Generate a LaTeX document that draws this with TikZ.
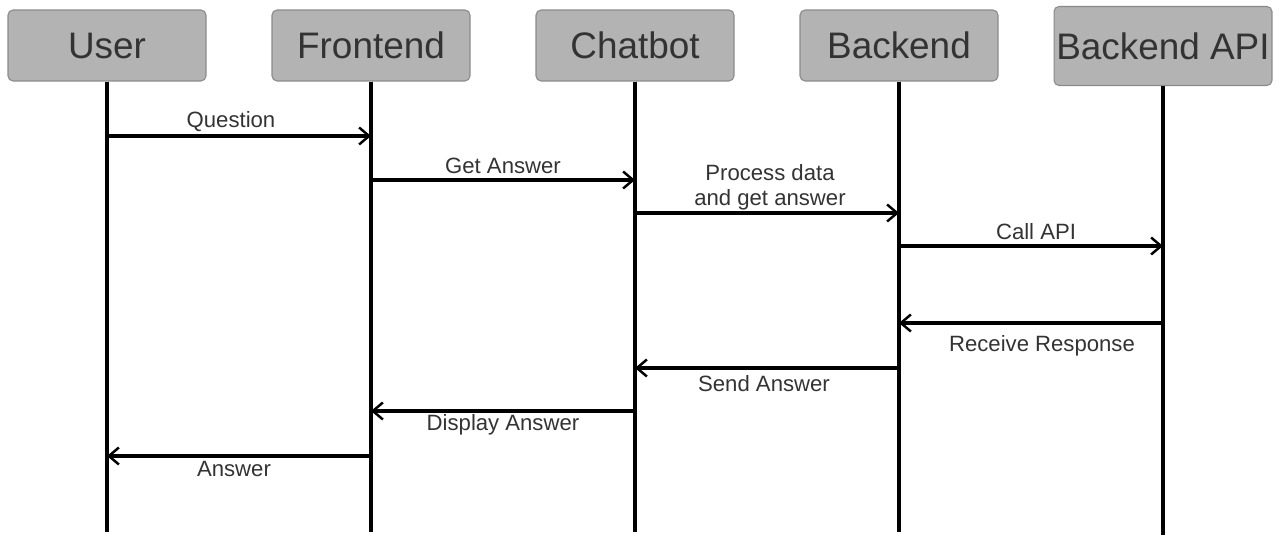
\documentclass[tikz,border=0pt]{standalone}
\usepackage{fontspec}
\setmainfont{Liberation Sans}
\usetikzlibrary{arrows.meta}
\definecolor{boxfill}{HTML}{B3B3B3}
\definecolor{boxline}{HTML}{8A8A8A}
\definecolor{txt}{HTML}{333333}
\tikzset{
  actor/.style={draw=boxline, fill=boxfill, rounded corners=0.1cm, line width=0.6pt,
    minimum width=3.96cm, minimum height=1.42cm, inner sep=0pt,
    text=txt, font=\fontsize{21}{24}\selectfont},
  lifeline/.style={line width=2.2pt},
  msg/.style={line width=2.2pt, -{Straight Barb[length=0.2cm, width=0.34cm, line width=1.4pt]}},
  lbl/.style={text=txt, font=\fontsize{12.6}{14.4}\selectfont, inner sep=0pt, align=center}
}
\begin{document}
\begin{tikzpicture}[x=0.02cm, y=-0.02cm]
  \useasboundingbox (0,0) rectangle (1282,553);
  % actors
  \node[actor] (user) at (107,45.5) {User};
  \node[actor] (frontend) at (371,45.5) {Frontend};
  \node[actor] (chatbot) at (635,45.5) {Chatbot};
  \node[actor] (backend) at (899,45.5) {Backend};
  \node[actor, minimum width=4.36cm, minimum height=1.58cm] (api) at (1163,46) {Backend API};
  % lifeline ends
  \coordinate (userend) at (107,532);
  \coordinate (frontendend) at (371,532);
  \coordinate (chatbotend) at (635,532);
  \coordinate (backendend) at (899,532);
  \coordinate (apiend) at (1163,535);
  \begin{scope}[lifeline]
    \draw (user) -- (userend);
    \draw (frontend) -- (frontendend);
    \draw (chatbot) -- (chatbotend);
    \draw (backend) -- (backendend);
    \draw (api) -- (apiend);
  \end{scope}
  % messages
  \draw[msg] (user |- 0,136) -- (frontend |- 0,136);
  \draw[msg] (frontend |- 0,180) -- (chatbot |- 0,180);
  \draw[msg] (chatbot |- 0,213) -- (backend |- 0,213);
  \draw[msg] (backend |- 0,246) -- (api |- 0,246);
  \draw[msg] (api |- 0,323) -- (backend |- 0,323);
  \draw[msg] (backend |- 0,368) -- (chatbot |- 0,368);
  \draw[msg] (chatbot |- 0,411) -- (frontend |- 0,411);
  \draw[msg] (frontend |- 0,456) -- (user |- 0,456);
  % labels
  \node[lbl] (question) at (231,122) {Question};
  \node[lbl] (getanswer) at (503,166) {Get Answer};
  \node[lbl] (process) at (770,187) {Process data\\ and get answer};
  \node[lbl] (callapi) at (1036,232) {Call API};
  \node[lbl] (receive) at (1042,346) {Receive Response};
  \node[lbl] (send) at (764,384) {Send Answer};
  \node[lbl] (display) at (503,425) {Display Answer};
  \node[lbl] (answer) at (234,469) {Answer};
\end{tikzpicture}
\end{document}
